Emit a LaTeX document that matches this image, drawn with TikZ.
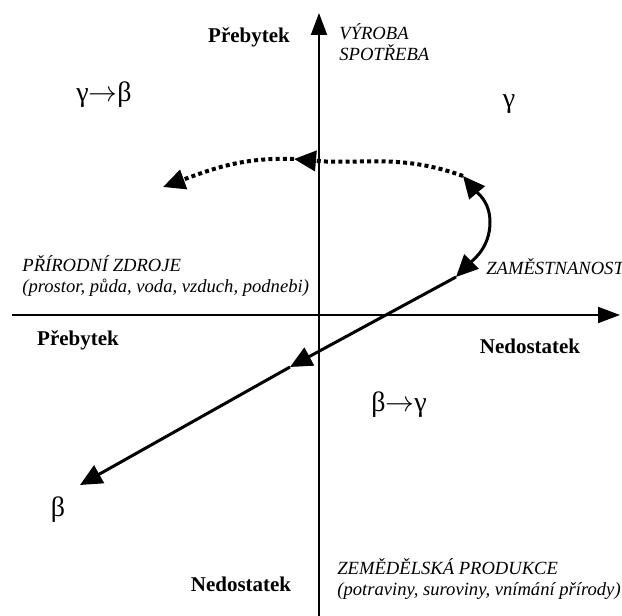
\documentclass[tikz,border=0pt]{standalone}
\usepackage{fontspec}
\setmainfont{Liberation Serif}
\usetikzlibrary{arrows.meta}
\begin{document}
\begin{tikzpicture}[x=0.5pt, y=0.5pt]
    \tikzset{
      axis/.style={line width=1pt, -{Triangle[length=11pt,width=8pt]}},
      flow/.style={line width=1.5pt, -{Triangle[length=11pt,width=10pt]}},
      dotflow/.style={line width=2pt, dash pattern=on 2pt off 1.6pt, -{Triangle[length=11pt,width=10pt]}},
      head/.style={font=\bfseries\fontsize{10.5}{12}\selectfont},
      note/.style={font=\itshape\fontsize{9.3}{10.5}\selectfont, align=left, anchor=west, inner sep=0pt},
      greek/.style={font=\fontsize{14}{16}\selectfont},
    }
    \useasboundingbox (0,0) rectangle (622,616);
    % ===== axes =====
    \coordinate (south) at (319,0);
    \coordinate (north) at (319,603);
    \coordinate (west) at (12,301);
    \coordinate (east) at (620,301);
    \draw[axis] (south) -- (north);
    \draw[axis] (west) -- (east);
    % ===== quadrant labels =====
    \node[head] (surplusN) at (249,579) {Přebytek};
    \node[head] (surplusW) at (78,276) {Přebytek};
    \node[head] (deficitE) at (530,270) {Nedostatek};
    \node[head] (deficitS) at (241,32) {Nedostatek};
    \node[note] (production) at (339,574) {VÝROBA\\SPOTŘEBA};
    \node[note] (resources) at (22,340) {PŘÍRODNÍ ZDROJE\\(prostor, půda, voda, vzduch, podnebi)};
    \node[note] (employment) at (486,349) {ZAMĚSTNANOST};
    \node[note] (farming) at (337,37) {ZEMĚDĚLSKÁ PRODUKCE\\(potraviny, suroviny, vnímání přírody)};
    \node[greek] (gb) at (104,521) {γ$\rightarrow$β};
    \node[greek] (g) at (509,512) {γ};
    \node[greek] (bg) at (399,211) {β$\rightarrow$γ};
    \node[greek] (b) at (58,106) {β};
    % ===== trajectory =====
    \coordinate (top) at (463,440);
    \coordinate (bulge) at (490,394);
    \coordinate (low) at (456,339);
    \coordinate (mid) at (290,249);
    \coordinate (betaend) at (80,131);
    \coordinate (dmid) at (294,457);
    \coordinate (dend) at (163,429);
    \draw[flow] (bulge) to[out=90,in=-50] (top);
    \draw[flow] (bulge) to[out=-90,in=45] (low);
    \draw[flow] (low) -- (mid);
    \draw[flow] (mid) -- (betaend);
    \draw[dotflow] (top) to[out=160,in=-5] (dmid);
    \draw[dotflow] (dmid) to[out=178,in=20] (dend);
\end{tikzpicture}
\end{document}
